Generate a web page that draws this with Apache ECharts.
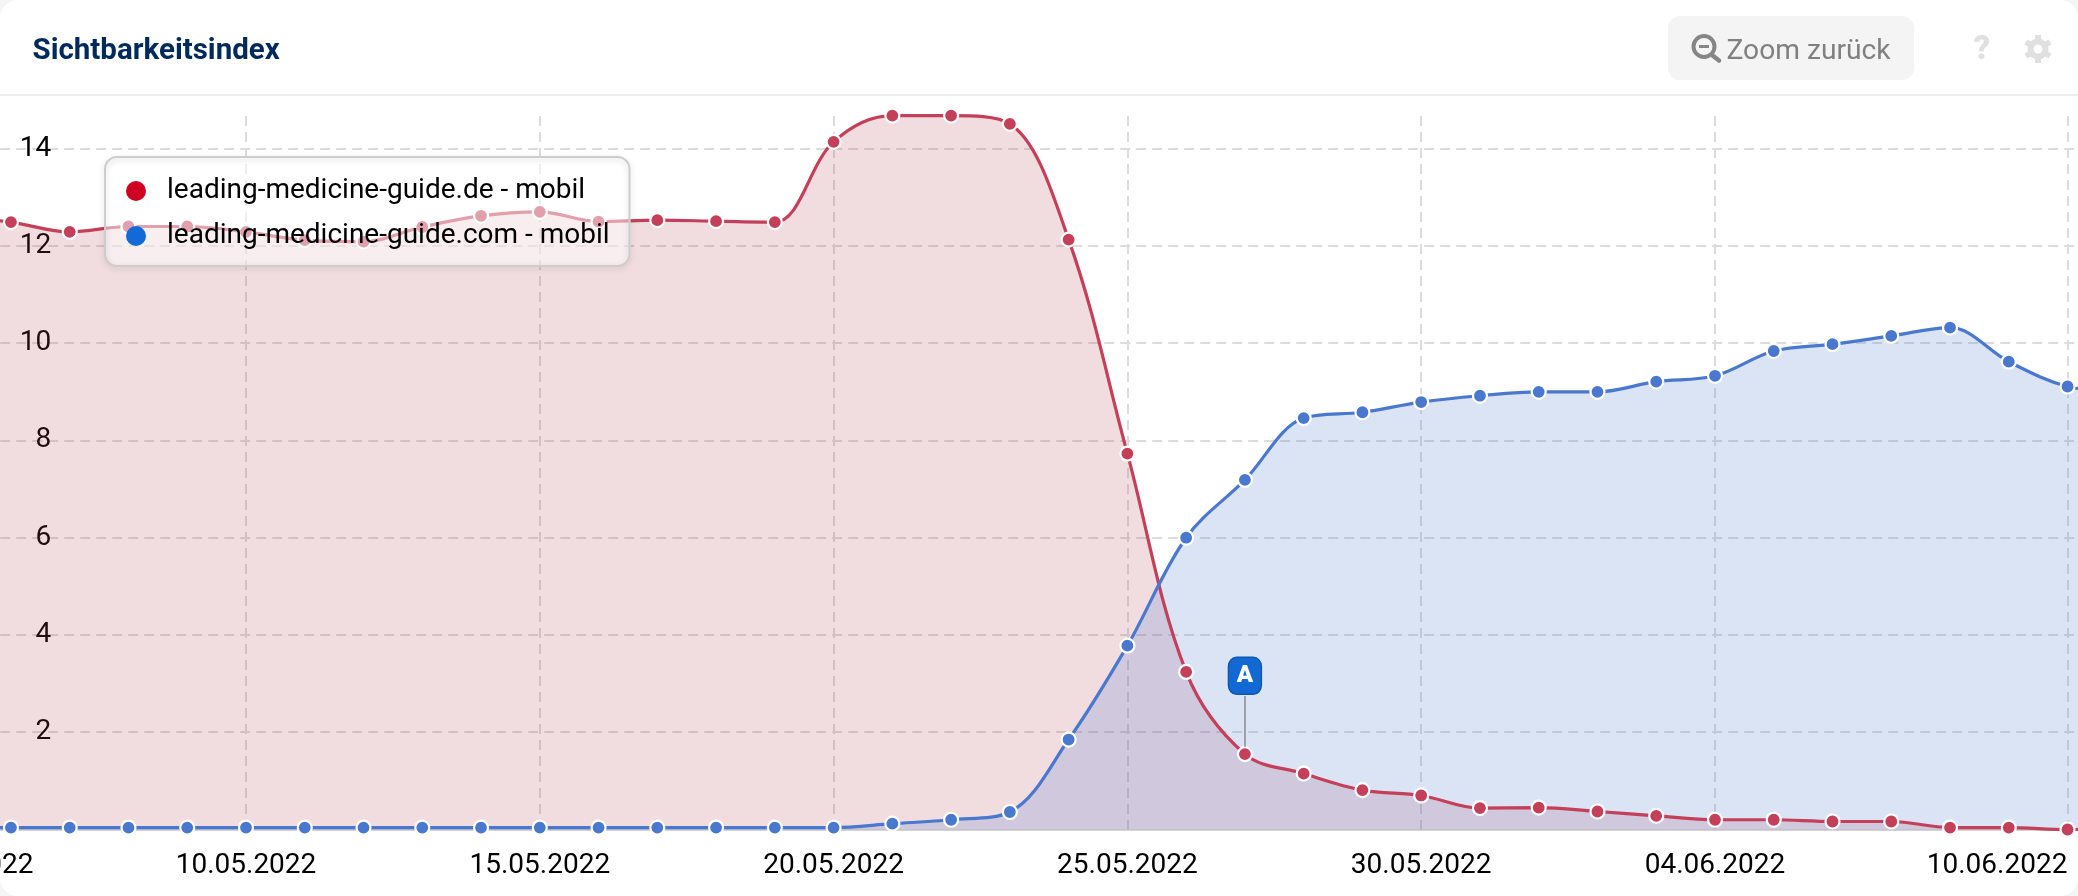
<!DOCTYPE html>
<html><head><meta charset="utf-8">
<style>
html,body{margin:0;padding:0;width:2078px;height:896px;overflow:hidden;background:#f5f5f5}
#card{position:absolute;left:0;top:0;width:2078px;height:896px;background:#fff;border-radius:18px;overflow:hidden}
#chart{position:absolute;left:-100px;top:0;width:2278px;height:896px}
</style>
<script src="https://cdn.jsdelivr.net/npm/echarts@6/dist/echarts.min.js"></script>
</head><body><div id="card"><div id="chart"></div></div>
<script>
const days = Array.from({length:38},(_,i)=>i); // day 0 = 05.05.2022
const tickDays = [0,5,10,15,20,25,30,36];
const tickLabels = ['05.05.2022','10.05.2022','15.05.2022','20.05.2022','25.05.2022','30.05.2022','04.06.2022','10.06.2022'];
const yTicks = [2,4,6,8,10,12,14];
const redName = 'leading-medicine-guide.de - mobil';
const blueName = 'leading-medicine-guide.com - mobil';
const redValues = [12.62,12.49,12.29,12.40,12.40,12.29,12.12,12.09,12.39,12.62,12.70,12.50,12.53,12.51,12.49,14.14,14.68,14.68,14.51,12.13,7.73,3.24,1.55,1.15,0.81,0.70,0.44,0.45,0.37,0.28,0.20,0.20,0.165,0.165,0.04,0.04,0,0];
const blueValues = [0.04,0.04,0.04,0.04,0.04,0.04,0.04,0.04,0.04,0.04,0.04,0.04,0.04,0.04,0.04,0.04,0.12,0.20,0.36,1.85,3.78,6.00,7.19,8.46,8.58,8.79,8.92,9.00,9.00,9.21,9.33,9.84,9.98,10.15,10.32,9.62,9.11,9.0];
const noteDay = 22, noteValue = 1.55;

const OX = 100; // canvas is shifted left by this amount
const gearX = OX+2038, gearY = 49;
const gearTeeth = [0,60,120].map(a=>{
  const r=14, t=a*Math.PI/180;
  return {type:'line', silent:true, z:51, shape:{x1:gearX-r*Math.sin(t),y1:gearY-r*Math.cos(t),x2:gearX+r*Math.sin(t),y2:gearY+r*Math.cos(t)}, style:{stroke:'#e0e0e0',lineWidth:6}};
});

const font = 'Roboto, sans-serif';
const chart = echarts.init(document.getElementById('chart'), null, {renderer:'canvas'});
const dotStyle = c => ({color:c, borderColor:'#fff', borderWidth:2.2, opacity:1});
const SMOOTH = 0.35;
const pairs = vals => days.map((d,i)=>[d,vals[i]]);
const areaSeries = (name, vals, fill) => ({
  name, type:'line', clip:false, smooth:SMOOTH, z:1, silent:true,
  data:pairs(vals), symbol:'none', showSymbol:false,
  lineStyle:{width:0, opacity:0},
  areaStyle:{color:fill, opacity:1},
  emphasis:{disabled:true}
});
const lineSeries = (name, vals, col, z, extra) => Object.assign({
  name, type:'line', clip:false, smooth:SMOOTH, z,
  data:pairs(vals),
  symbol:'circle', symbolSize:14, showSymbol:true, showAllSymbol:true,
  itemStyle:dotStyle(col),
  lineStyle:{color:col, width:3.2},
  emphasis:{disabled:true}
}, extra||{});
chart.setOption({
  animation:false,
  backgroundColor:'transparent',
  textStyle:{fontFamily:font},
  grid:{left:52.2, top:116.1, width:2174.1, height:713.4, containLabel:false, outerBoundsMode:'none'},
  xAxis:{
    type:'value', min:0, max:37, 
    axisLine:{show:true, onZero:false, lineStyle:{color:'#c8c8c8', width:1.5}},
    axisTick:{show:false, customValues:tickDays},
    splitLine:{show:true, showMinLine:true, showMaxLine:true, lineStyle:{color:'#dcdcdc', width:2, type:[10,6]}},
    axisLabel:{
      show:true, customValues:tickDays, margin:22, color:'#000', fontFamily:font, fontSize:28,
      hideOverlap:false, showMinLabel:true, showMaxLabel:true,
      formatter:v=>{
        const t = tickLabels[tickDays.indexOf(v)];
        if (v===tickDays[0]) return '{first|'+t+'}';
        if (v===tickDays[tickDays.length-1]) return '{last|'+t+'}';
        return t;
      },
      rich:{
        first:{fontFamily:font,fontSize:28,color:'#000',padding:[0,0,0,22]},
        last:{fontFamily:font,fontSize:28,color:'#000',padding:[0,141,0,0]}
      }
    }
  },
  yAxis:{
    type:'value', min:0, max:14.67,
    axisLine:{show:false},
    axisTick:{show:false, customValues:yTicks},
    splitLine:{show:true, showMinLine:true, showMaxLine:true, lineStyle:{color:'#dcdcdc', width:2, type:[10,6]}},
    axisLabel:{show:true, customValues:yTicks, inside:true, align:'right', margin:99, color:'#000', fontFamily:font, fontSize:28, showMinLabel:true, showMaxLabel:true}
  },
  legend:{
    left:105+OX, top:157, orient:'vertical', align:'left',
    padding:[20,21,15,21], itemGap:17, itemWidth:20, itemHeight:20,
    backgroundColor:'rgba(255,255,255,0.5)', borderWidth:0, borderRadius:12,
    textStyle:{fontFamily:font, fontSize:28, color:'#000', padding:[3,0,0,16]},
    data:[
      {name:redName, icon:'circle', itemStyle:{color:'#cf0022', borderWidth:0}},
      {name:blueName, icon:'circle', itemStyle:{color:'#1269d8', borderWidth:0}}
    ],
    selectedMode:false
  },
  graphic:[
    {type:'rect', silent:true, z:50, shape:{x:OX,y:94,width:2078,height:2}, style:{fill:'#eeeeee'}},
    {type:'rect', silent:true, z:50, shape:{x:OX+105,y:157,width:524.5,height:109,r:12}, style:{fill:'none',stroke:'#cdcdcd',lineWidth:2,shadowBlur:6,shadowColor:'rgba(0,0,0,0.18)',shadowOffsetY:2}},
    {type:'text', silent:true, z:50, x:OX+32.5, y:52, style:{text:'Sichtbarkeitsindex', font:'700 29.5px Roboto, sans-serif', fill:'#002a5c', textVerticalAlign:'middle'}},
    {type:'rect', silent:true, z:50, shape:{x:OX+1668,y:16,width:246,height:64,r:12}, style:{fill:'#f4f4f4'}},
    {type:'circle', silent:true, z:51, shape:{cx:OX+1704,cy:46.5,r:10.5}, style:{fill:'none',stroke:'#868686',lineWidth:4}},
    {type:'line', silent:true, z:51, shape:{x1:OX+1712,y1:55,x2:OX+1719,y2:60.5}, style:{stroke:'#868686',lineWidth:4.5,lineCap:'round'}},
    {type:'line', silent:true, z:51, shape:{x1:OX+1699,y1:46.5,x2:OX+1709,y2:46.5}, style:{stroke:'#868686',lineWidth:3}},
    {type:'text', silent:true, z:51, x:OX+1726.5, y:52, style:{text:'Zoom zurück', font:'400 28.2px Roboto, sans-serif', fill:'#808080', textVerticalAlign:'middle'}},
    {type:'text', silent:true, z:51, x:OX+1982, y:51, style:{text:'?', font:'900 33px Roboto, sans-serif', fill:'#e0e0e0', textAlign:'center', textVerticalAlign:'middle'}},
    {type:'circle', silent:true, z:51, shape:{cx:gearX,cy:gearY,r:10.5}, style:{fill:'#e0e0e0'}},
    ...gearTeeth,
    {type:'circle', silent:true, z:52, shape:{cx:gearX,cy:gearY,r:4.5}, style:{fill:'#fff'}}
  ],
  series:[
    areaSeries(redName, redValues, 'rgba(176,60,80,0.18)'),
    areaSeries(blueName, blueValues, 'rgba(74,120,207,0.2)'),
    lineSeries(redName, redValues, '#c43f59', 3, {
      markLine:{
        silent:true, symbol:'none', label:{show:false}, animation:false,
        lineStyle:{color:'#888', width:1.5, type:'solid'},
        data:[[{coord:[noteDay,noteValue+0.15]},{coord:[noteDay,2.745]}]]
      },
      markPoint:{
        silent:true, animation:false, symbol:'roundRect', symbolSize:[33,37],
        itemStyle:{color:'#1269d3', borderColor:'#0f57ad', borderWidth:1.5},
        label:{show:true, formatter:'A', color:'#fff', fontFamily:font, fontWeight:900, fontSize:24},
        data:[{name:'A', coord:[noteDay,3.16]}]
      }
    }),
    lineSeries(blueName, blueValues, '#4a78cf', 4)
  ]
});
</script></body></html>
